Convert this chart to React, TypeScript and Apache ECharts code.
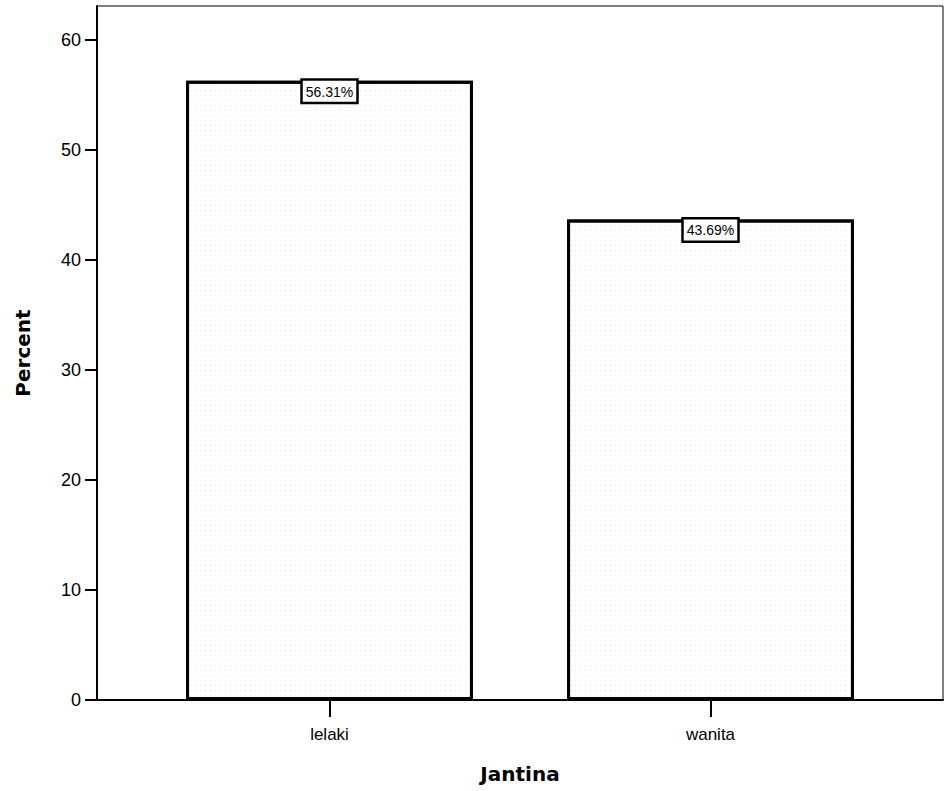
import React, { useEffect, useRef } from "react";
import * as echarts from "echarts";

const categories = ["lelaki", "wanita"];
const percents = [56.31, 43.69];
const yTicks = [0, 10, 20, 30, 40, 50, 60];
const yMax = 63.1;
const xTitle = "Jantina";
const yTitle = "Percent";

const NARROW = '"Liberation Sans", Arial, sans-serif';
const BOLD = '"DejaVu Sans", sans-serif';

export default function App() {
  const ref = useRef<HTMLDivElement>(null);
  useEffect(() => {
    if (!ref.current) return;
    const chart = echarts.init(ref.current, null, { renderer: "svg" });
    const option: any = {
      animation: false,
      backgroundColor: "#ffffff",
      grid: [
        { left: 97, right: 2, top: 6, bottom: 91, show: true, borderColor: "#000", borderWidth: 1, backgroundColor: "transparent" },
        { left: 139, right: 44, top: 6, bottom: 91 },
      ],
      xAxis: [
        {
          gridIndex: 0,
          type: "value",
          min: 0,
          max: 1,
          axisLine: { show: true, onZero: false, lineStyle: { color: "#000", width: 2 } },
          axisTick: { show: false },
          axisLabel: { show: false },
          splitLine: { show: false },
          name: xTitle,
          nameLocation: "middle",
          nameGap: 64,
          nameTextStyle: { fontFamily: BOLD, fontWeight: "bold", fontSize: 20, color: "#000" },
        },
        {
          gridIndex: 1,
          type: "category",
          data: categories,
          axisLine: { show: false },
          axisTick: { show: true, alignWithLabel: true, length: 17, lineStyle: { color: "#000", width: 2 } },
          axisLabel: { margin: 26, fontFamily: NARROW, fontSize: 17, color: "#000" },
          splitLine: { show: false },
        },
      ],
      yAxis: [
        {
          gridIndex: 0,
          type: "value",
          min: 0,
          max: yMax,
          interval: 10,
          axisLine: { show: true, lineStyle: { color: "#000", width: 2 } },
          axisTick: { show: true, length: 12, lineStyle: { color: "#000", width: 2 } },
          axisLabel: {
            margin: 16,
            fontFamily: NARROW,
            fontSize: 18,
            color: "#000",
            showMaxLabel: false,
            formatter: (v: number) => (yTicks.indexOf(v) >= 0 ? String(v) : ""),
          },
          splitLine: { show: false },
          name: yTitle,
          nameLocation: "middle",
          nameGap: 64,
          nameTextStyle: { fontFamily: BOLD, fontWeight: "bold", fontSize: 20, color: "#000" },
        },
        {
          gridIndex: 1,
          type: "value",
          min: 0,
          max: yMax,
          show: false,
        },
      ],
      series: [
        {
          type: "bar",
          xAxisIndex: 1,
          yAxisIndex: 1,
          data: percents,
          barWidth: "75.3%",
          itemStyle: {
            color: "#ffffff",
            borderColor: "#000",
            borderWidth: 3,
            decal: {
              symbol: "rect",
              symbolSize: 0.5,
              dashArrayX: [1, 4],
              dashArrayY: [1, 4],
              color: "rgba(100,100,100,0.6)",
              backgroundColor: "#ffffff",
            },
          },
          label: {
            show: true,
            position: "insideTop",
            distance: 0,
            formatter: (p: any) => p.value.toFixed(2) + "%",
            fontFamily: NARROW,
            fontSize: 14,
            lineHeight: 18,
            color: "#000",
            backgroundColor: "#fff",
            borderColor: "#000",
            borderWidth: 2.5,
            padding: [2, 3, 1, 3],
          },
        },
      ],
    };
    chart.setOption(option);
    return () => chart.dispose();
  }, []);
  return <div ref={ref} style={{ position: "fixed", left: 0, top: 0, width: 945, height: 791 }} />;
}
